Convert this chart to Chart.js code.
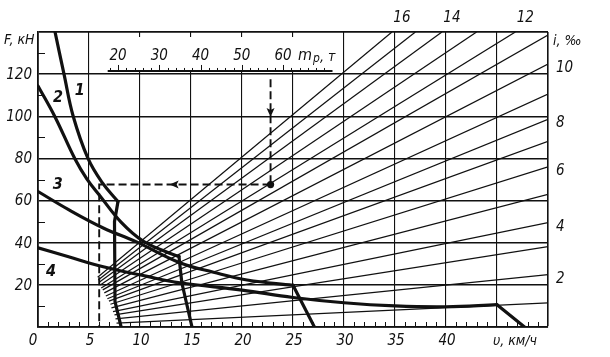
<!DOCTYPE html>
<html><head><meta charset="utf-8">
<script src="https://cdn.jsdelivr.net/npm/chart.js@4"></script>
<style>html,body{margin:0;padding:0;background:#fff}</style>
</head><body>
<canvas id="c" width="610" height="357"></canvas>
<script>
// ---------- data ----------
const speedTickLabels = ['0','5','10','15','20','25','30','35','40'];
const speedTickValues = [0,5,10,15,20,25,30,35,40];
const forceTickValues = [20,40,60,80,100,120];
const forceTickLabels = ['20','40','60','80','100','120'];

// grade lines i, ‰ : start and end points (v km/h, F kN)
const grades    = [1,2,3,4,5,6,7,8,9,10,11,12,13,14,15,16];
const fanStartV = [7.7,7.6,7.5,7.35,7.2,7.1,6.95,6.8,6.65,6.5,6.35,6.2,6.1,6.0,5.9,5.85];
const fanStartF = [1.8,3.8,5.7,7.3,9.1,10.8,12.3,13.4,14.7,16.2,17.6,18.5,19.9,21.2,22.3,23.6];
const fanEndV   = [50,50,50,50,50,50,50,50,50,50,50,46.8,43.0,39.6,37.0,34.7];
const fanEndF   = [11.4,24.8,38.1,49.5,62.9,76,88.1,98.6,110.5,124.8,138.6,140,140,140,140,140];
const rightGradeLabels = [2,4,6,8,10];
const topGradeLabels = [12,14,16];

// mass scale m_p, t
const massMajor = [20,30,40,50,60];
const massMinor = [18,22,24,26,28,32,34,36,38,42,44,46,48,52,54,56,58,62,64,66,68,70];

// traction curves 1..4 (v, F)
const curve1     = [[1.67,140],[2.55,120],[3.45,100],[4.9,80],[6.3,68.5],[7.84,59.5]];
const curve1Drop = [[7.84,59.5],[7.5,50],[7.55,12],[8.15,0]];
const curve2     = [[0,114.4],[1.67,99.7],[3.63,79.7],[4.8,70.2],[6.08,62.2],[8.14,49.8],[10.3,40.8],[12.84,35.1],[13.82,33.5]];
const curve2Drop = [[13.82,33.5],[14.1,21],[15.1,0]];
const curve3     = [[0,64.3],[3.0,55.7],[6.4,47],[9.6,40.5],[13.9,30.5],[17.2,26],[20.5,22.3],[25.0,19.8]];
const curve3Drop = [[25.0,19.8],[27.1,0]];
const curve4     = [[0,37.6],[3.0,33.3],[6.4,28.6],[10.7,24],[13.9,21],[20,17.5],[25,14],[30,11.5],[35,10],[40,9.6],[45,10.6]];
const curve4Drop = [[45,10.6],[47.7,0]];
const curveLabels = ['1','2','3','4'];
const curveLabelV = [4.1, 1.96, 1.93, 1.27];
const curveLabelF = [112, 108.6, 67.4, 26.3];

// worked example (dashed path)
const exampleV = [22.8, 6.0];
const exampleF = [117.6, 67.6];

// ---------- chart ----------
const INK = '#111';
const FONT = '"Liberation Sans Narrow","DejaVu Sans Condensed","DejaVu Sans",sans-serif';
const pts = a => a.map(p => ({x:p[0], y:p[1]}));
const massToSpeed = m => (4.125*m - 2.5)/10.2;

const datasets = [];
grades.forEach((g,k) => {
  datasets.push({data:[{x:fanStartV[k],y:fanStartF[k]},{x:fanEndV[k],y:fanEndF[k]}],
    borderColor:INK, borderWidth:1.25, tension:0});
});
[[curve1,0.4],[curve1Drop,0],[curve2,0.4],[curve2Drop,0],[curve3,0.4],[curve3Drop,0],[curve4,0.4],[curve4Drop,0]]
  .forEach(([c,t]) => datasets.push({data:pts(c), borderColor:INK, borderWidth:3.2, tension:t,
    cubicInterpolationMode:'default', borderCapStyle:'round', borderJoinStyle:'round'}));
// dashed example path
datasets.push({data:[{x:exampleV[0],y:exampleF[0]},{x:exampleV[0],y:exampleF[1]}], borderColor:INK, borderWidth:1.9, borderDash:[8,4]});
datasets.push({data:[{x:exampleV[0],y:exampleF[1]},{x:exampleV[1],y:exampleF[1]},{x:exampleV[1],y:0}], borderColor:INK, borderWidth:1.9, borderDash:[8,4]});
datasets.push({data:[{x:exampleV[0],y:exampleF[1]}], showLine:false, pointRadius:3.6, pointBackgroundColor:INK, pointBorderWidth:0});

const deco = {
  id:'deco',
  beforeDatasetsDraw(chart){
    const {ctx, scales:{x,y}} = chart;
    ctx.save();
    const xl = x.getPixelForValue(massToSpeed(17.5)), xr = x.getPixelForValue(massToSpeed(72));
    const yb = y.getPixelForValue(121.5);
    ctx.fillStyle = '#fff';
    ctx.fillRect(xl-3, 37, xr-xl+6, yb-37);
    ctx.strokeStyle = INK; ctx.lineWidth = 2;
    ctx.beginPath(); ctx.moveTo(xl, yb); ctx.lineTo(xr, yb); ctx.stroke();
    ctx.lineWidth = 1;
    massMajor.forEach(m => { const px = Math.round(x.getPixelForValue(massToSpeed(m)))+0.5;
      ctx.beginPath(); ctx.moveTo(px,yb); ctx.lineTo(px,yb-6); ctx.stroke(); });
    massMinor.forEach(m => { const px = Math.round(x.getPixelForValue(massToSpeed(m)))+0.5;
      ctx.beginPath(); ctx.moveTo(px,yb); ctx.lineTo(px,yb-3); ctx.stroke(); });
    ctx.fillStyle = INK; ctx.font = 'italic 15px '+FONT; ctx.textAlign='center'; ctx.textBaseline='middle';
    massMajor.forEach(m => ctx.fillText(String(m), x.getPixelForValue(massToSpeed(m)), yb-15));
    const mx = x.getPixelForValue(massToSpeed(60)) + 15;
    ctx.textAlign='left';
    ctx.font = 'italic 16px '+FONT; ctx.fillText('m', mx, yb-15);
    const mw = ctx.measureText('m').width;
    ctx.font = 'italic 12px '+FONT; ctx.fillText('р', mx+mw+1, yb-12);
    const pw = ctx.measureText('р').width;
    ctx.font = 'italic 14px '+FONT; ctx.fillText(', т', mx+mw+pw+1, yb-14);
    ctx.restore();
  },
  afterDatasetsDraw(chart){
    const {ctx, chartArea:a, scales:{x,y}} = chart;
    ctx.save();
    ctx.strokeStyle = INK; ctx.fillStyle = INK; ctx.lineWidth = 1;
    for (let f=10; f<140; f+=20){ const py = Math.round(y.getPixelForValue(f))+0.5;
      ctx.beginPath(); ctx.moveTo(a.left, py); ctx.lineTo(a.left+7, py); ctx.stroke(); }
    for (let v=1; v<50; v++){ if (v%5===0) continue; const px = Math.round(x.getPixelForValue(v))+0.5;
      ctx.beginPath(); ctx.moveTo(px, a.bottom); ctx.lineTo(px, a.bottom-5); ctx.stroke(); }
    ctx.textBaseline='middle';
    ctx.font = 'italic 15px '+FONT;
    ctx.textAlign='right';
    forceTickValues.forEach((f,k) => ctx.fillText(forceTickLabels[k], 32, y.getPixelForValue(f)+1));
    ctx.textAlign='center';
    speedTickValues.forEach((v,k) => ctx.fillText(speedTickLabels[k], x.getPixelForValue(v) + (v===0?-5:1), 341));
    ctx.textAlign='left';
    ctx.font = 'italic 14px '+FONT; ctx.fillText('F, кН', 4, 40);
    ctx.fillText('υ, км/ч', x.getPixelForValue(44.6), 341);
    ctx.fillText('i, ‰', a.right+5, 41);
    ctx.font = 'italic 15px '+FONT;
    rightGradeLabels.forEach(g => ctx.fillText(String(g), a.right+8, y.getPixelForValue(fanEndF[g-1])+4));
    ctx.textAlign='center';
    topGradeLabels.forEach(g => ctx.fillText(String(g), x.getPixelForValue(fanEndV[g-1])+10, 18));
    ctx.font = 'italic bold 16px '+FONT;
    curveLabels.forEach((t,k) => ctx.fillText(t, x.getPixelForValue(curveLabelV[k]), y.getPixelForValue(curveLabelF[k])));
    const ax = x.getPixelForValue(13.4), ay = y.getPixelForValue(exampleF[1]);
    ctx.beginPath(); ctx.moveTo(ax-5, ay); ctx.lineTo(ax+4, ay-4); ctx.lineTo(ax+2, ay); ctx.lineTo(ax+4, ay+4); ctx.closePath(); ctx.fill();
    const bx = x.getPixelForValue(exampleV[0]), by = y.getPixelForValue(102);
    ctx.beginPath(); ctx.moveTo(bx, by+5); ctx.lineTo(bx-4, by-4); ctx.lineTo(bx, by-2); ctx.lineTo(bx+4, by-4); ctx.closePath(); ctx.fill();
    ctx.restore();
  }
};

new Chart(document.getElementById('c'), {
  type:'line',
  data:{datasets},
  options:{
    responsive:false, animation:false, devicePixelRatio:1,
    parsing:true,
    elements:{point:{radius:0, hoverRadius:0}, line:{fill:false}},
    layout:{padding:{left:38, right:62, top:32, bottom:30}},
    plugins:{legend:{display:false}, tooltip:{enabled:false}},
    scales:{
      x:{type:'linear', min:0, max:50,
         ticks:{display:false, stepSize:5},
         grid:{drawTicks:false, color:INK, lineWidth:c => (c.tick && c.tick.value===50) ? 1.6 : 1.1},
         border:{display:true, color:INK, width:1.8}},
      y:{type:'linear', min:0, max:140,
         ticks:{display:false, stepSize:20},
         grid:{drawTicks:false, color:INK, lineWidth:c => (c.tick && c.tick.value===140) ? 1.8 : 1.5},
         border:{display:true, color:INK, width:1.8}}
    }
  },
  plugins:[deco]
});
</script>
</body></html>
